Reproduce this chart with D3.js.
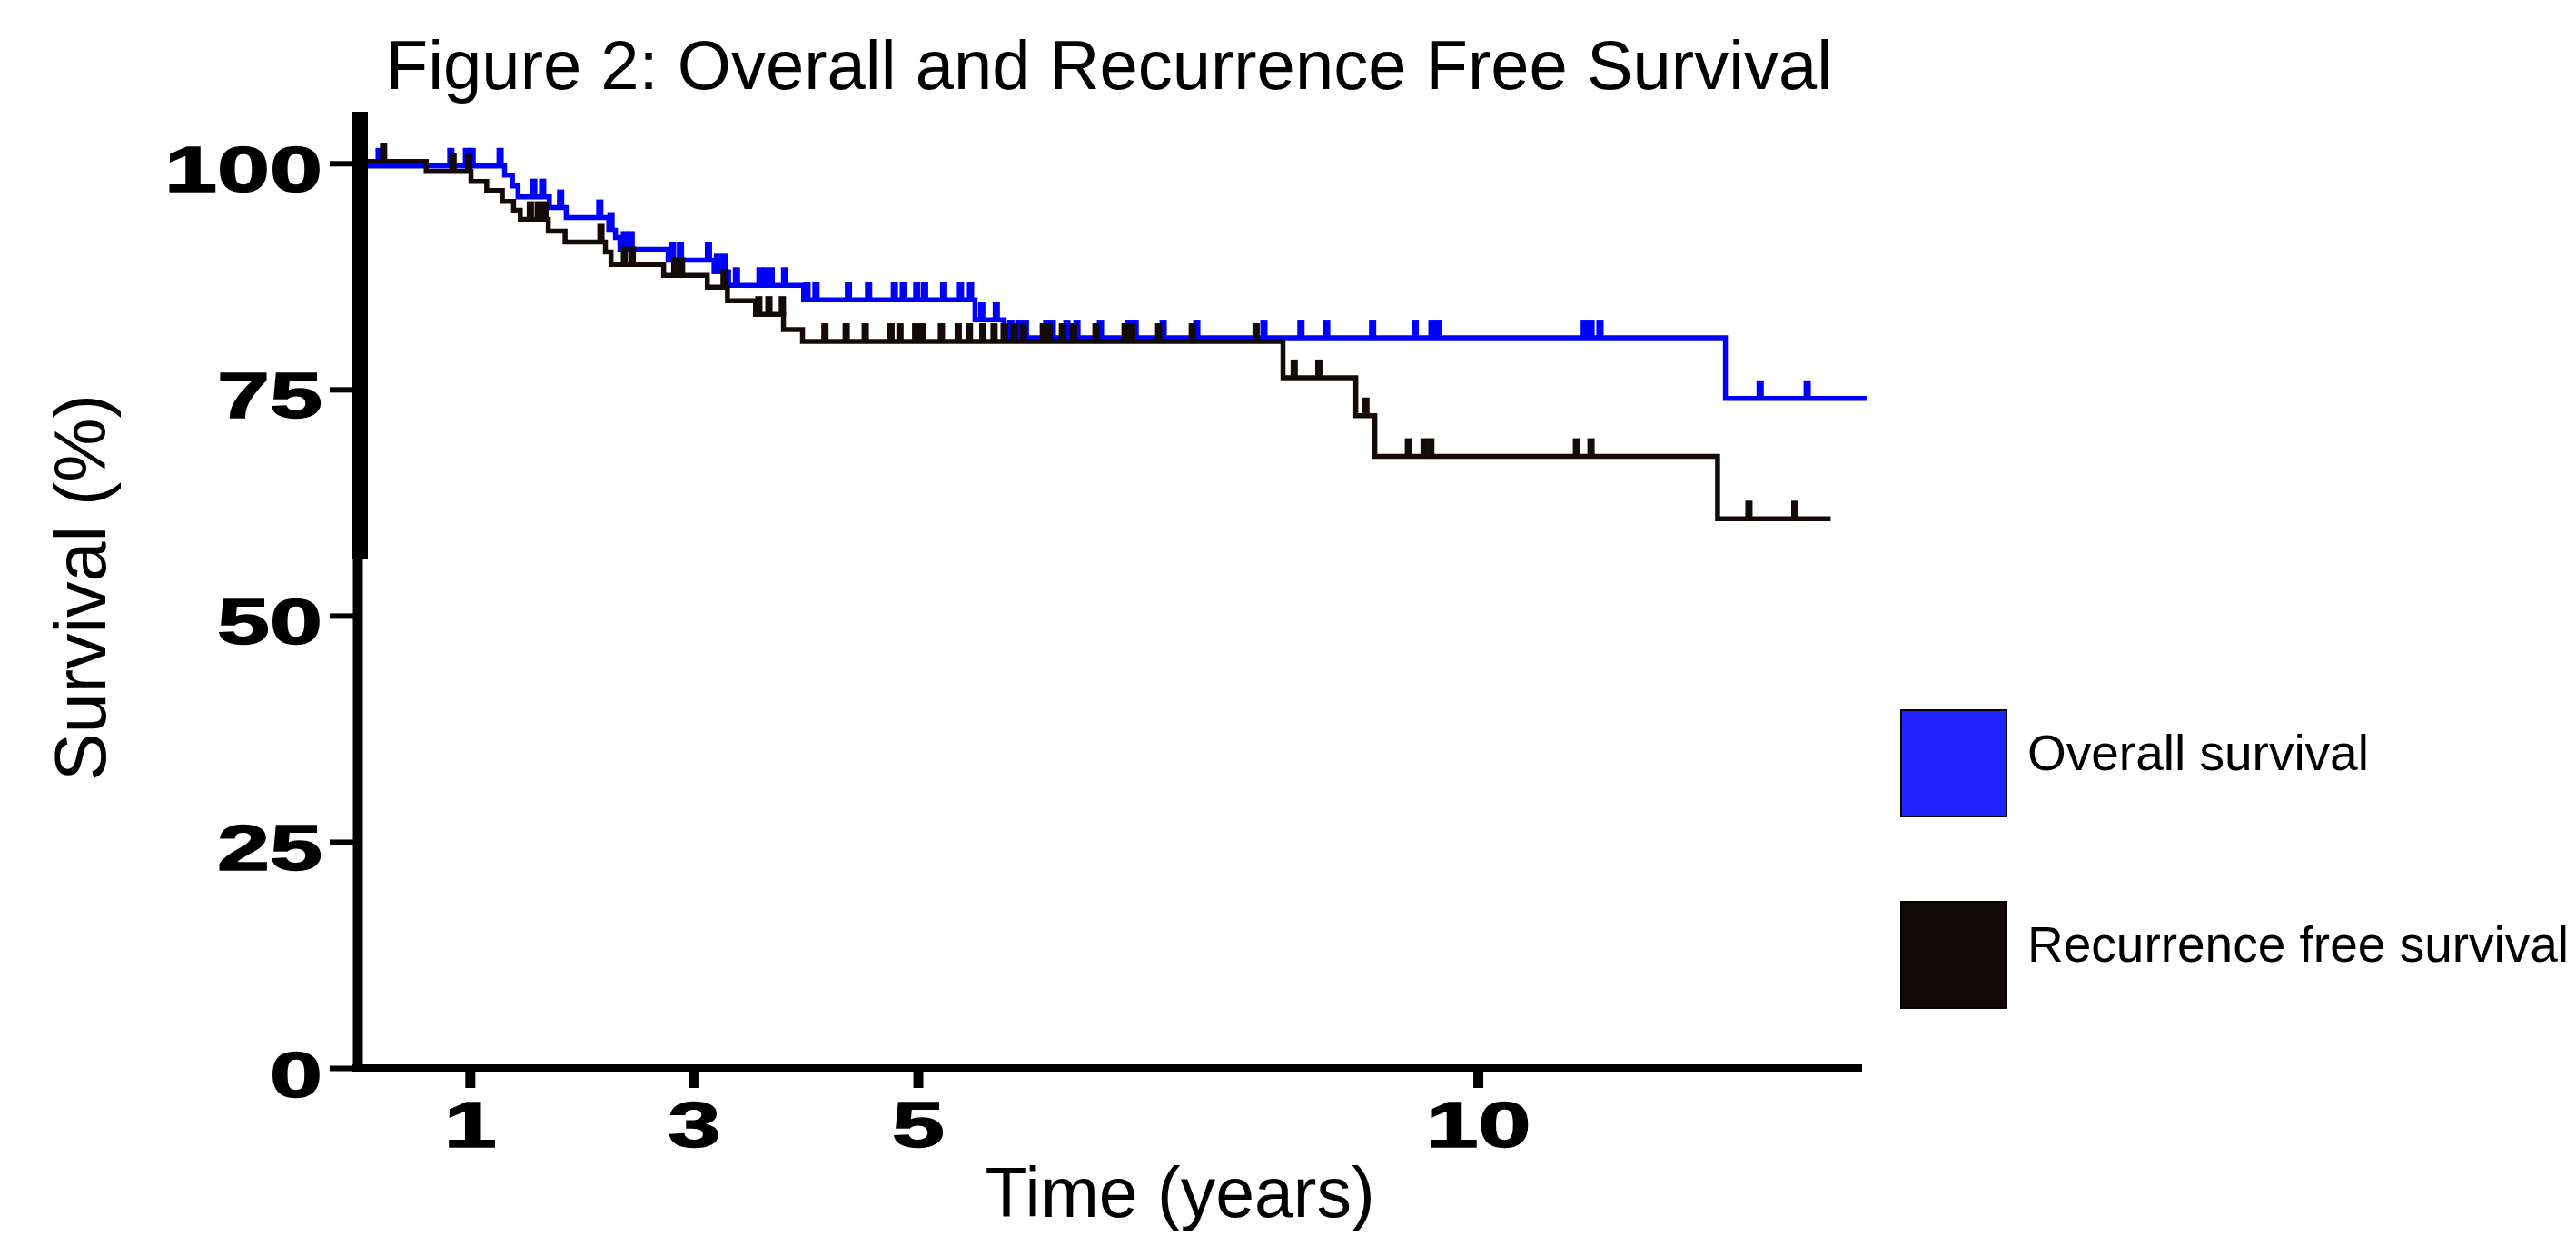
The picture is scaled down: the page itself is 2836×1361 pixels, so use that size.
<!DOCTYPE html>
<html>
<head>
<meta charset="utf-8">
<script src="https://cdn.jsdelivr.net/npm/d3@7"></script>
<style>
  html, body { margin: 0; padding: 0; background: #fff; }
  text { font-family: "Liberation Sans", Arial, sans-serif; }
</style>
</head>
<body>
<div id="chart"></div>
<script>
// Overall survival (OS) - step times (years) and survival (%)
var osTimes = [0, 1.31, 1.38, 1.43, 1.71, 1.86, 2.24, 2.30, 2.34, 2.77, 3.18, 3.31, 3.98, 5.51, 5.77, 12.21];
var osSurv  = [99.7, 98.7, 97.5, 96.3, 95.1, 94.0, 92.6, 91.8, 90.5, 89.3, 88.0, 86.5, 84.9, 82.7, 80.7, 74.0];
var osEnd = 13.47;
var osCensor = [0.19, 0.83, 0.97, 1.02, 1.27, 1.57, 1.65, 1.81, 2.16, 2.26, 2.38, 2.44, 2.81, 2.88, 3.13,
  3.21, 3.27, 3.38, 3.59, 3.64, 3.69, 3.81, 4.01, 4.09, 4.38, 4.56, 4.79, 4.87, 4.99, 5.06, 5.23, 5.38, 5.47,
  5.57, 5.70, 5.83, 5.90, 5.96, 6.15, 6.20, 6.33, 6.42, 6.63, 6.88, 6.94, 7.19, 7.49, 8.09, 8.42, 8.65,
  9.06, 9.44, 9.59, 9.65, 10.95, 11.01, 11.09, 12.52, 12.94];

// Recurrence free survival (RFS)
var rfsTimes = [0, 0.61, 1.01, 1.15, 1.29, 1.39, 1.45, 1.70, 1.85, 2.21, 2.26, 2.73, 3.12, 3.30, 3.55, 3.80, 3.97, 8.26, 8.91, 9.08, 12.14];
var rfsSurv  = [100.2, 99.1, 98.0, 97.0, 95.8, 94.8, 93.8, 92.5, 91.3, 90.2, 88.8, 87.6, 86.3, 84.8, 83.3, 81.6, 80.3, 76.3, 72.1, 67.6, 60.7];
var rfsEnd = 13.15;
var rfsCensor = [0.23, 0.85, 0.99, 1.54, 1.61, 1.67, 2.17, 2.38, 2.45, 2.83, 2.89, 3.27, 3.58, 3.67, 3.79,
  4.17, 4.36, 4.53, 4.76, 4.84, 4.98, 5.04, 5.21, 5.36, 5.46, 5.58, 5.68, 5.77, 5.86, 5.94, 6.12, 6.17,
  6.29, 6.39, 6.59, 6.85, 6.91, 7.15, 7.45, 8.02, 8.36, 8.58, 9.00, 9.38, 9.52, 9.58, 10.88, 11.01,
  12.42, 12.83];

var xTicks = [1, 3, 5, 10];
var yTicks = [0, 25, 50, 75, 100];
var legendLabels = ["Overall survival", "Recurrence free survival"];

var width = 2836, height = 1361;

var svg = d3.select("#chart").append("svg")
  .attr("width", width)
  .attr("height", height);

var x = d3.scaleLinear().domain([0, 13.43]).range([394, 2050]);
var y = d3.scaleLinear().domain([0, 105.7]).range([1176, 123]);

// build step data
function steps(times, surv, end) {
  var pts = times.map(function(t, i) { return [t, surv[i]]; });
  pts.push([end, surv[surv.length - 1]]);
  return pts;
}
function survAt(times, surv, t) {
  var v = surv[0];
  for (var i = 0; i < times.length; i++) { if (times[i] <= t) v = surv[i]; }
  return v;
}

var series = [
  { name: legendLabels[0], times: osTimes, surv: osSurv, end: osEnd, censor: osCensor, color: "#0000ff", box: "#2222ff" },
  { name: legendLabels[1], times: rfsTimes, surv: rfsSurv, end: rfsEnd, censor: rfsCensor, color: "#140b09", box: "#130808" }
];

var line = d3.line()
  .x(function(d) { return x(d[0]); })
  .y(function(d) { return y(d[1]); })
  .curve(d3.curveStepAfter);

series.forEach(function(s) {
  var g = svg.append("g");
  g.append("path")
    .attr("d", line(steps(s.times, s.surv, s.end)))
    .attr("fill", "none")
    .attr("stroke", s.color)
    .attr("stroke-width", 5.5);
  g.selectAll("line.censor")
    .data(s.censor)
    .enter().append("line")
    .attr("class", "censor")
    .attr("x1", function(d) { return x(d); })
    .attr("x2", function(d) { return x(d); })
    .attr("y1", function(d) { return y(survAt(s.times, s.surv, d)) + 2; })
    .attr("y2", function(d) { return y(survAt(s.times, s.surv, d)) - 20; })
    .attr("stroke", s.color)
    .attr("stroke-width", 8);
});

// axes
var yAxis = d3.axisLeft(y).tickValues(yTicks).tickSize(27).tickPadding(8);
var gy = svg.append("g").attr("transform", "translate(390,0)").call(yAxis);
gy.select(".domain").remove();
gy.selectAll(".tick line").attr("stroke", "#000").attr("stroke-width", 6);
gy.selectAll(".tick text")
  .attr("dy", null)
  .attr("y", 31)
  .attr("fill", "#000")
  .attr("stroke", "#000")
  .attr("stroke-width", 1.5)
  .style("font-family", "'Liberation Sans', Arial, sans-serif")
  .style("font-size", "70px")
  .style("font-weight", "bold")
  .attr("lengthAdjust", "spacingAndGlyphs")
  .attr("textLength", function(d) { return String(d).length * 58; });

var xAxis = d3.axisBottom(x).tickValues(xTicks).tickSize(22).tickPadding(10);
var gx = svg.append("g").attr("transform", "translate(0,1176)").call(xAxis);
gx.select(".domain").remove();
gx.selectAll(".tick line").attr("stroke", "#000").attr("stroke-width", 11);
gx.selectAll(".tick text")
  .attr("dy", null)
  .attr("y", 87)
  .attr("fill", "#000")
  .attr("stroke", "#000")
  .attr("stroke-width", 1.5)
  .style("font-family", "'Liberation Sans', Arial, sans-serif")
  .style("font-size", "70px")
  .style("font-weight", "bold")
  .attr("lengthAdjust", "spacingAndGlyphs")
  .attr("textLength", function(d) { return String(d).length * 58; });

// axis lines
svg.append("line")
  .attr("x1", 388).attr("x2", x.range()[1])
  .attr("y1", y(0)).attr("y2", y(0))
  .attr("stroke", "#000").attr("stroke-width", 8);
svg.append("line")
  .attr("x1", 394).attr("x2", 394)
  .attr("y1", y(0) + 4).attr("y2", y(105.7))
  .attr("stroke", "#000").attr("stroke-width", 11);
svg.append("line")
  .attr("x1", 396.5).attr("x2", 396.5)
  .attr("y1", y(56.3)).attr("y2", y(105.7))
  .attr("stroke", "#000").attr("stroke-width", 17);

// titles
svg.append("text")
  .attr("x", 1221).attr("y", 98)
  .attr("text-anchor", "middle")
  .style("font-size", "76px")
  .text("Figure 2: Overall and Recurrence Free Survival");

svg.append("text")
  .attr("transform", "translate(116,647) rotate(-90)")
  .attr("text-anchor", "middle")
  .style("font-size", "79px")
  .text("Survival (%)");

svg.append("text")
  .attr("x", 1299).attr("y", 1340)
  .attr("text-anchor", "middle")
  .style("font-size", "77px")
  .text("Time (years)");

// legend
var legend = svg.append("g").selectAll("g")
  .data(series)
  .enter().append("g")
  .attr("transform", function(d, i) { return "translate(2093," + (782 + i * 211) + ")"; });
legend.append("rect")
  .attr("width", 116).attr("height", 117)
  .attr("fill", function(d) { return d.box; })
  .attr("stroke", "#000").attr("stroke-width", 2);
legend.append("text")
  .attr("x", 139).attr("y", 66)
  .style("font-size", "55px")
  .text(function(d) { return d.name; });
</script>
</body>
</html>
